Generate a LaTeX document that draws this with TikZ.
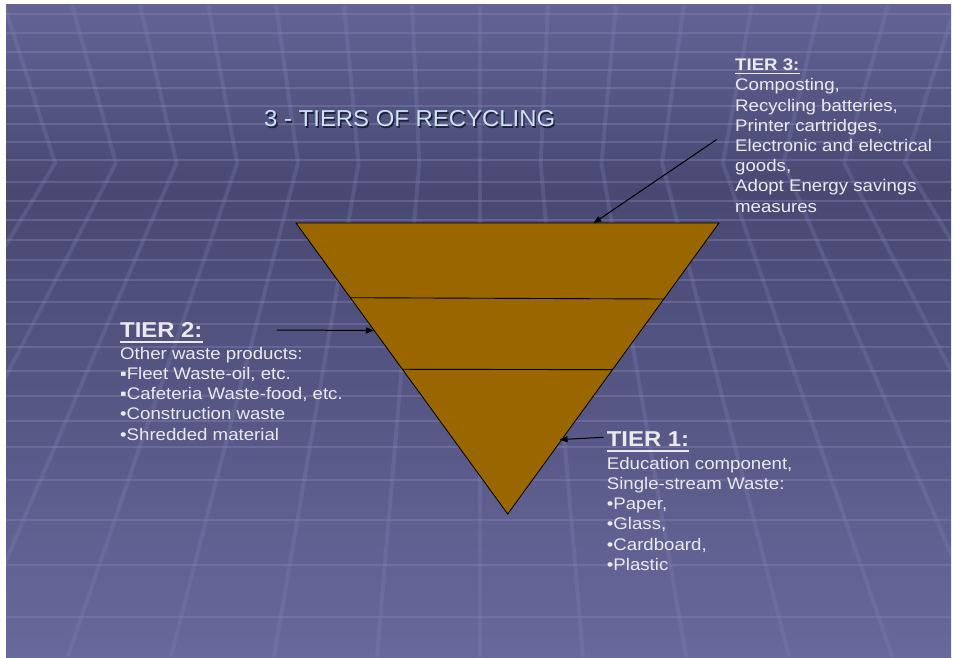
\documentclass[tikz,border=0pt]{standalone}
\usepackage{fontspec}
\setmainfont{Liberation Sans}[FakeStretch=1.11]
\newfontfamily\titlefont{Liberation Sans}[FakeStretch=1.04]
\usetikzlibrary{arrows.meta,calc}
\definecolor{bgtop}{RGB}{99,99,150}
\definecolor{bgdark}{RGB}{72,72,114}
\definecolor{bgbot}{RGB}{104,104,156}
\definecolor{gridc}{RGB}{130,130,182}
\definecolor{tierfill}{HTML}{996600}
\definecolor{txt}{RGB}{234,234,238}
\definecolor{titlec}{RGB}{204,228,244}
\definecolor{shadowc}{RGB}{30,30,55}
\begin{document}
\begin{tikzpicture}[x=1pt,y=-1pt,
  hline/.style={draw=gridc,line width=2pt,opacity=0.42},
  dline/.style={draw=gridc,line width=4pt,opacity=0.28},
  bodytext/.style={anchor=base west,inner sep=0pt,text=txt,font=\fontsize{16.8}{20.2}\selectfont},
  headsmall/.style={bodytext,font=\fontsize{16.8}{20.2}\selectfont\bfseries},
  headbig/.style={bodytext,font=\fontsize{21.5}{25}\selectfont\bfseries},
  ulstyle/.style={draw=txt},
  titletext/.style={anchor=base west,inner sep=0pt,text=titlec,font=\fontsize{23}{27}\titlefont},
  tier/.style={fill=tierfill,draw=black,line width=0.8pt,line join=miter},
  divider/.style={draw=black,line width=0.9pt},
  arr/.style={draw=black,line width=1pt,-{Triangle[length=8pt,width=6pt]}}
]
\useasboundingbox (0,0) rectangle (954,658);
\fill[white] (0,0) rectangle (954,658);
% background
\shade[top color=bgtop,bottom color=bgdark] (6,5) rectangle (951,190.5);
\shade[top color=bgdark,bottom color=bgbot] (6,190) rectangle (951,657);
\begin{scope}
\clip (6,5) rectangle (951,657);
\foreach \yy in {14,33,52,70,88,106,124,142,160,182,201,220,240,260,280,302,324,347,371,396,421,447,480,520,565,617}
  \draw[hline] (6,\yy) -- (951,\yy);
\foreach \k in {-9,...,9} {
  \pgfmathsetmacro\xv{480+60.7*\k}
  \pgfmathsetmacro\xt{\xv+0.12*(\xv-480)}
  \pgfmathsetmacro\xb{480+1.698*(\xv-480)}
  \draw[dline] (\xt,5) -- (\xv,163) -- (\xb,657);
}
\end{scope}

% title
\node[titletext,text=shadowc] (titleshadow) at (265.3,128.3) {3 - TIERS OF RECYCLING};
\node[titletext] (title) at (264,127) {3 - TIERS OF RECYCLING};

% triangle
\coordinate (TL) at (296,223);
\coordinate (TR) at (719,223);
\coordinate (B) at (507.7,514);
\path[tier] (TL) -- (TR) -- (B) -- cycle;
\coordinate (d1l) at ($(TL)!0.2567!(B)$);
\coordinate (d1r) at ($(TR)!0.2612!(B)$);
\coordinate (d2l) at ($(TL)!0.5027!(B)$);
\coordinate (d2r) at ($(TR)!0.5040!(B)$);
\draw[divider] (d1l) -- (d1r);
\draw[divider] (d2l) -- (d2r);

% Tier 3
\node[headsmall] (h3) at (735,71) {TIER 3:};
\draw[ulstyle,line width=1.4pt] ([yshift=-2.6pt]h3.base west) -- ([yshift=-2.6pt]h3.base east);
\foreach \t [count=\i from 0] in {{Composting,},{Recycling batteries,},{Printer cartridges,},{Electronic and electrical},{goods,},{Adopt Energy savings},{measures}}
  \node[bodytext] (t3-\i) at (735,91+20.2*\i) {\t};

% Tier 2
\node[headbig] (h2) at (120,337.7) {TIER 2:};
\draw[ulstyle,line width=2.4pt] ([yshift=-4pt]h2.base west) -- ([yshift=-4pt]h2.base east);
\foreach \t [count=\i from 0] in {{Other waste products:},{▪Fleet Waste-oil, etc.},{▪Cafeteria Waste-food, etc.},{•Construction waste},{•Shredded material}}
  \node[bodytext] (t2-\i) at (120,359.3+20.2*\i) {\t};

% Tier 1
\node[headbig] (h1) at (606.7,446.7) {TIER 1:};
\draw[ulstyle,line width=2.4pt] ([yshift=-4pt]h1.base west) -- ([yshift=-4pt]h1.base east);
\foreach \t [count=\i from 0] in {{Education component,},{Single-stream Waste:},{•Paper,},{•Glass,},{•Cardboard,},{•Plastic}}
  \node[bodytext] (t1-\i) at (606.7,469.3+20.2*\i) {\t};

% arrows
\coordinate (a3s) at (716.7,139.5);
\coordinate (a3e) at (593.3,223.3);
\coordinate (a2s) at (277,330);
\coordinate (a2e) at (374,330.5);
\coordinate (a1s) at (603.5,437.3);
\coordinate (a1e) at (559.5,439.6);
\draw[arr] (a3s) -- (a3e);
\draw[arr] (a2s) -- (a2e);
\draw[arr] (a1s) -- (a1e);
\end{tikzpicture}
\end{document}
